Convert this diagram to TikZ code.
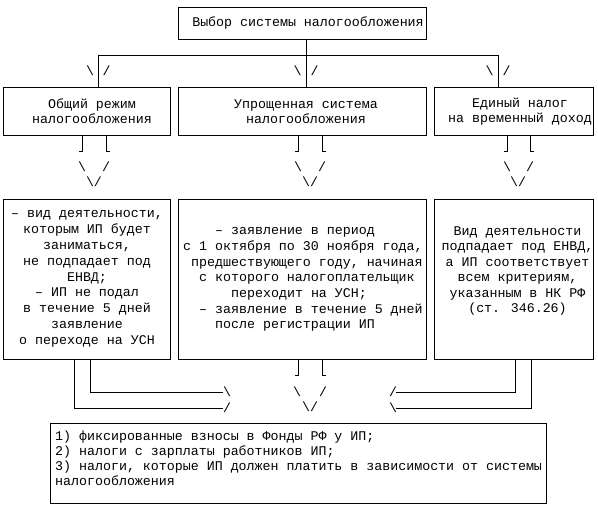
\documentclass[tikz,border=0pt]{standalone}
\usepackage{fontspec}
\newfontfamily\cour{Liberation Mono}
\newcommand\ind[1]{\hspace*{\dimexpr #1pt*8\relax}}
\begin{document}
\begin{tikzpicture}[x=1pt,y=-1pt,
  ln/.style={line width=0.9pt,black},
  bx/.style 2 args={draw,line width=0.9pt,anchor=north west,inner sep=0,
     minimum width=#1pt,minimum height=#2pt},
  tx/.style={font=\cour\fontsize{13.3}{#1}\selectfont,inner sep=0,align=center},
  txl/.style={font=\cour\fontsize{13.3}{#1}\selectfont,inner sep=0,align=left},
  mk/.style={font=\cour\fontsize{13.3}{15}\selectfont,inner sep=0}]
\useasboundingbox (0,0) rectangle (598,508);
% boxes
\node[bx={248}{32}] (top) at (178,7) {};
\node[bx={167}{48}] (r2a) at (3,87) {};
\node[bx={248}{48}] (r2b) at (178,87) {};
\node[bx={159}{48}] (r2c) at (434,87) {};
\node[bx={167}{160}] (r3a) at (3,199) {};
\node[bx={248}{160}] (r3b) at (178,199) {};
\node[bx={159}{160}] (r3c) at (434,199) {};
\node[bx={496}{80}] (bot) at (50,423) {};
% texts
\node[tx=15] (ttop) at (308,23.5) {Выбор системы налогообложения};
\node[tx=15] (t2a) at (92,111.5) {Общий режим\\налогообложения};
\node[tx=15] (t2b) at (306,111.5) {Упрощенная система\\налогообложения};
\node[tx=15] (t2c) at (520,111.5) {Единый налог\\на временный доход};
\node[tx=15.8] (t3a) at (87,279) {– вид деятельности,\\которым ИП будет\\заниматься,\\не подпадает под\\ЕНВД;\\– ИП не подал\\в течение 5 дней\\заявление\\о переходе на УСН};
\node[txl=15.7,anchor=west] (t3b) at (183,279.5) {\ind{4}– заявление в период\\с 1 октября по 30 ноября года,\\\ind{1}предшествующего году, начиная\\\ind{2}с которого налогоплательщик\\\ind{6}переходит на УСН;\\\ind{2}– заявление в течение 5 дней\\\ind{4}после регистрации ИП};
\node[tx=15.5] (t3c) at (517.5,271) {Вид деятельности\\подпадает под ЕНВД,\\а ИП соответствует\\всем критериям,\\указанным в НК РФ\\(ст. 346.26)};
\node[txl=15,anchor=west] (tbot) at (55,458.5) {1) фиксированные взносы в Фонды РФ у ИП;\\2) налоги с зарплаты работников ИП;\\3) налоги, которые ИП должен платить в зависимости от системы\\налогообложения};
% top connectors
\coordinate (jc) at (306,55);
\coordinate (jl) at (98,55);
\coordinate (jr) at (498,55);
\draw[ln] (top.south -| jc) -- (jc);
\draw[ln] (jl) -- (jr);
\draw[ln] (jl) -- (jl |- r2a.north);
\draw[ln] (jc) -- (jc |- r2b.north);
\draw[ln] (jr) -- (jr |- r2c.north);
\node[mk] (a1) at (90,71) {\textbackslash};
\node[mk] (a2) at (106.5,71) {/};
\node[mk] (b1) at (297.5,71) {\textbackslash};
\node[mk] (b2) at (314.5,71) {/};
\node[mk] (c1) at (489.5,71) {\textbackslash};
\node[mk] (c2) at (506.5,71) {/};
% brackets below row 2
\coordinate (ka1) at (82,136); \coordinate (ka2) at (106,136);
\coordinate (kb1) at (298,136); \coordinate (kb2) at (322,136);
\coordinate (kc1) at (507,136); \coordinate (kc2) at (530,136);
\foreach \k in {ka1,kb1,kc1}{\draw[ln] (\k) -- ++(0,15) -- ++(-3.5,0);}
\foreach \k in {ka2,kb2,kc2}{\draw[ln] (\k) -- ++(0,15) -- ++(3.5,0);}
\node[mk] (da1) at (82,167) {\textbackslash};
\node[mk] (da2) at (106,167) {/};
\node[mk] (da3) at (94,182) {\textbackslash/};
\node[mk] (db1) at (298,167) {\textbackslash};
\node[mk] (db2) at (322,167) {/};
\node[mk] (db3) at (310,182) {\textbackslash/};
\node[mk] (dc1) at (507,167) {\textbackslash};
\node[mk] (dc2) at (530,167) {/};
\node[mk] (dc3) at (518,182) {\textbackslash/};
% below row 3 middle
\coordinate (kd1) at (298,359.5); \coordinate (kd2) at (322,359.5);
\draw[ln] (kd1) -- ++(0,15.5) -- ++(-3.5,0);
\draw[ln] (kd2) -- ++(0,15.5) -- ++(3.5,0);
\node[mk] (e1) at (297,392) {\textbackslash};
\node[mk] (e2) at (323,392) {/};
\node[mk] (e3) at (310,407) {\textbackslash/};
% left double line
\coordinate (li) at (223,392); \coordinate (lo) at (223,408);
\draw[ln] (r3a.south -| 90,0) -- (90,392) -- (li);
\draw[ln] (r3a.south -| 74,0) -- (74,408) -- (lo);
\node[mk] (f1) at (227,392) {\textbackslash};
\node[mk] (f2) at (227,407.5) {/};
% right double line
\coordinate (ri) at (396,392); \coordinate (ro) at (396,408);
\draw[ln] (r3c.south -| 515,0) -- (515,392) -- (ri);
\draw[ln] (r3c.south -| 531,0) -- (531,408) -- (ro);
\node[mk] (g1) at (393,392) {/};
\node[mk] (g2) at (393,407.5) {\textbackslash};
\end{tikzpicture}
\end{document}
